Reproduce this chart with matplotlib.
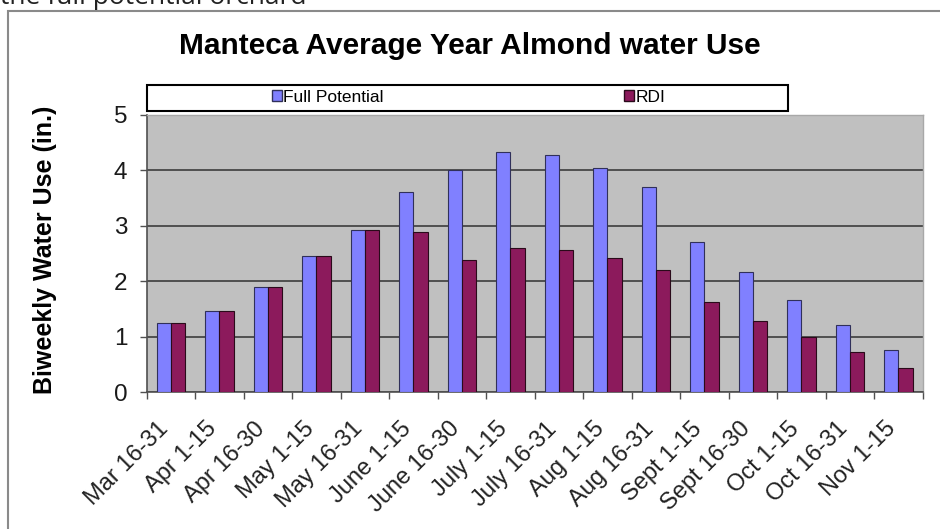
import matplotlib
matplotlib.use("Agg")
import matplotlib.pyplot as plt
from matplotlib.patches import Rectangle, Patch
from matplotlib.transforms import ScaledTranslation
import numpy as np

# данные
periods = ["Mar 16-31", "Apr 1-15", "Apr 16-30", "May 1-15", "May 16-31",
           "June 1-15", "June 16-30", "July 1-15", "July 16-31", "Aug 1-15",
           "Aug 16-31", "Sept 1-15", "Sept 16-30", "Oct 1-15", "Oct 16-31",
           "Nov 1-15"]
full_potential = [1.25, 1.47, 1.90, 2.46, 2.92, 3.62, 4.00, 4.34, 4.27, 4.05,
                  3.70, 2.71, 2.17, 1.67, 1.21, 0.76]
rdi = [1.25, 1.47, 1.90, 2.46, 2.92, 2.89, 2.38, 2.60, 2.56, 2.42,
       2.21, 1.62, 1.29, 0.99, 0.73, 0.44]
y_ticks = [0, 1, 2, 3, 4, 5]

plt.rcParams['font.family'] = ['Liberation Sans', 'DejaVu Sans']

W, H = 940, 529
fig = plt.figure(figsize=(W / 100, H / 100), dpi=100)


def fx(px):
    return px / W


def fy(py):
    return 1 - py / H


ax = fig.add_axes([fx(146.7), fy(392.3), (922.7 - 146.7) / W, (392.3 - 115) / H])
ax.set_facecolor('#C0C0C0')

x = np.arange(len(periods))
w = 0.29
ax.bar(x - w / 2, full_potential, w, color='#8080FF', edgecolor='#30305a', linewidth=0.8, zorder=3)
ax.bar(x + w / 2, rdi, w, color='#8C1A5C', edgecolor='#2a0a1a', linewidth=0.8, zorder=3)

ax.set_xlim(-0.5, len(periods) - 0.5)
ax.set_ylim(0, 5)
ax.set_yticks(y_ticks)
ax.yaxis.grid(True, color='#3c3c3c', linewidth=1.2, zorder=1)
ax.get_ygridlines()[-1].set_visible(False)
ax.set_axisbelow(True)

for s in ['left', 'bottom']:
    ax.spines[s].set_color('#505050')
    ax.spines[s].set_linewidth(1.2)
for s in ['top', 'right']:
    ax.spines[s].set_color('#a8a8a8')
    ax.spines[s].set_linewidth(1.0)

ax.tick_params(axis='y', length=5, width=1, color='#505050', labelsize=17.5,
               pad=9, labelcolor='#1a1a1a')

# подписи по центрам категорий, засечки на границах
ax.set_xticks(x)
ax.set_xticklabels(periods, rotation=45, ha='right', va='center',
                   rotation_mode='anchor', fontsize=17, color='#222222')
ax.set_xticks(np.arange(len(periods) + 1) - 0.5, minor=True)
ax.tick_params(axis='x', which='major', length=0, pad=24)
ax.tick_params(axis='x', which='minor', length=5, width=1, color='#505050')
shift = ScaledTranslation(-6 / 100, 0, fig.dpi_scale_trans)
for lab in ax.get_xticklabels():
    lab.set_transform(lab.get_transform() + shift)

# рамка легенды
fig.add_artist(Rectangle((fx(147), fy(110.5)), (788 - 147) / W, 25.5 / H,
                         transform=fig.transFigure, facecolor='white',
                         edgecolor='black', linewidth=1.5))
leg_kw = dict(frameon=False, borderpad=0, borderaxespad=0, handlelength=0.55,
              handleheight=0.55, handletextpad=0.1, fontsize=12.5)
fig.legend(handles=[Patch(facecolor='#8080FF', edgecolor='#30305a')],
           labels=['Full Potential'], loc='center left',
           bbox_to_anchor=(fx(272), fy(97)), **leg_kw)
fig.legend(handles=[Patch(facecolor='#8C1A5C', edgecolor='#2a0a1a')],
           labels=['RDI'], loc='center left',
           bbox_to_anchor=(fx(624), fy(97)), **leg_kw)

fig.text(fx(470), fy(46), 'Manteca Average Year Almond water Use',
         ha='center', va='center', fontsize=21.5, fontweight='bold')
fig.text(fx(45), fy(250), 'Biweekly Water Use (in.)', rotation=90,
         ha='center', va='center', fontsize=18, fontweight='bold')

# обрезанная строка текста над диаграммой и рамка диаграммы
fig.text(0, fy(4), 'the full potential orchard', va='baseline', fontsize=19,
         family=['Open Sans', 'DejaVu Sans'], color='#222222')
fig.add_artist(Rectangle((fx(8), -0.1), 1.2, fy(11) + 0.1,
                         transform=fig.transFigure, fill=False,
                         edgecolor='#8a8a8a', linewidth=1.5))

fig.savefig('out.png', dpi=100)
